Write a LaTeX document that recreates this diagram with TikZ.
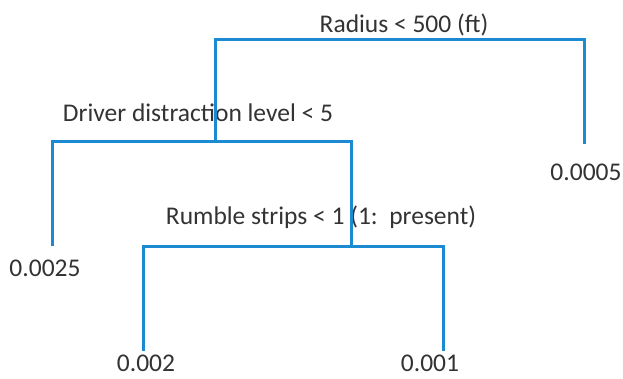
\documentclass[tikz,border=0pt]{standalone}
\usepackage{fontspec}
\setmainfont{Carlito}
\definecolor{branch}{HTML}{1B8AD3}
\definecolor{labeltext}{HTML}{333333}
\begin{document}
\begin{tikzpicture}[x=1pt,y=1pt,
  branchline/.style={draw=branch,line width=3pt,line cap=rect,line join=miter},
  lbl/.style={inner sep=0pt,text=labeltext,font=\fontsize{25.5}{28}\selectfont,anchor=center}]
\useasboundingbox (0,0) rectangle (623,379);
\fill[white] (0,0) rectangle (623,379);
% split labels
\node[lbl] (radius) at (404,354) {Radius < 500 (ft)};
\node[lbl] (driver) at (198,266) {Driver distraction level < 5};
\node[lbl] (rumble) at (321,162) {Rumble strips < 1 (1:\ \ present)};
% leaf values
\node[lbl] (leafA) at (45,111) {0.0025};
\node[lbl,anchor=base] (leafB) at (146,7) {0.002};
\node[lbl] (leafC) at (430,16) {0.001};
\node[lbl] (leafD) at (586,207) {0.0005};
% branch points
\coordinate (r1) at (215,339);
\coordinate (r2) at (584,339);
\coordinate (r2e) at (584,236);
\coordinate (d0) at (215,237);
\coordinate (d1) at (52,237);
\coordinate (d1e) at (52,134);
\coordinate (d2) at (351,237);
\coordinate (u0) at (351,132);
\coordinate (u1) at (143,132);
\coordinate (u1e) at (143,29);
\coordinate (u2) at (443,132);
\coordinate (u2e) at (443,29);
% tree
\draw[branchline] (d0) -- (r1) -- (r2) -- (r2e);
\draw[branchline] (d1e) -- (d1) -- (d2) -- (u0);
\draw[branchline] (u1e) -- (u1) -- (u2) -- (u2e);
\end{tikzpicture}
\end{document}
